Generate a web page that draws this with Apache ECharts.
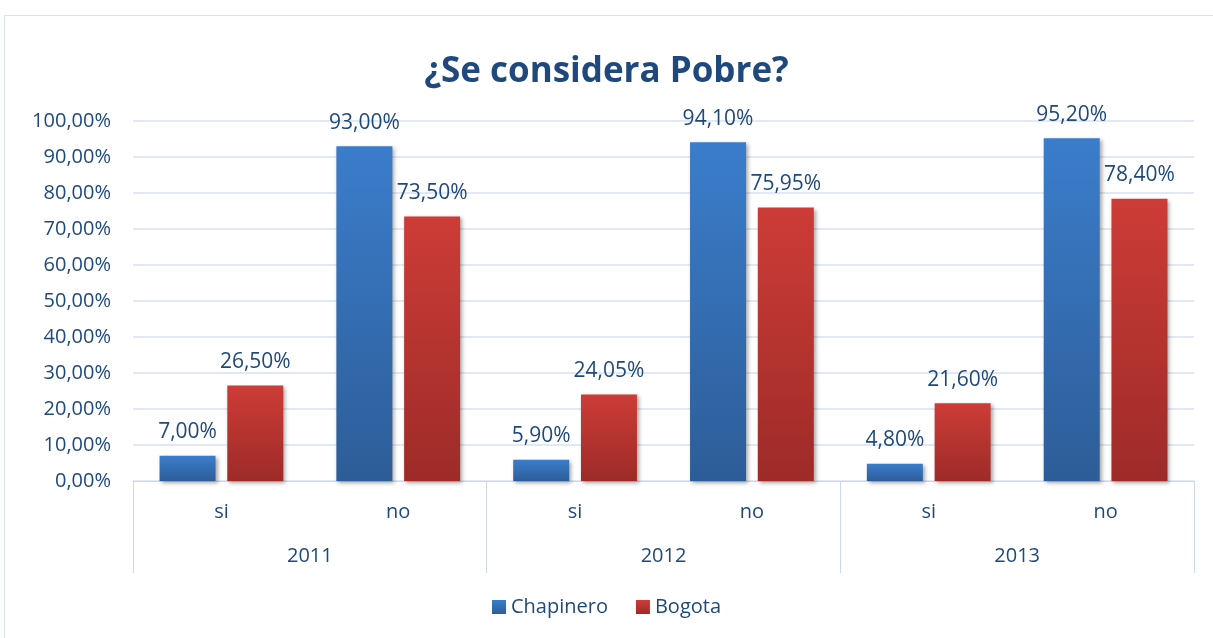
<!DOCTYPE html>
<html>
<head>
<meta charset="utf-8">
<script src="https://cdn.jsdelivr.net/npm/echarts@6/dist/echarts.min.js"></script>
<style>
  html, body { margin: 0; padding: 0; background: #fff; }
  #chart { width: 1213px; height: 638px; }
</style>
</head>
<body>
<div id="chart"></div>
<script>
var years = ['2011', '2012', '2013']
var answers = ['si', 'no', 'si', 'no', 'si', 'no']
var chapinero = [7.00, 93.00, 5.90, 94.10, 4.80, 95.20]
var bogota = [26.50, 73.50, 24.05, 75.95, 21.60, 78.40]

var textColor = '#1f497d'
var font = '"Open Sans", "Noto Sans", sans-serif'

function pct (v) {
  return v.toFixed(2).replace('.', ',') + '%'
}

function grad (top, bottom) {
  return new echarts.graphic.LinearGradient(0, 0, 0, 1, [
    { offset: 0, color: top },
    { offset: 1, color: bottom }
  ])
}

var myChart = echarts.init(document.getElementById('chart'))
var option = {
  animation: false,
  textStyle: { fontFamily: font },
  title: {
    text: '¿Se considera Pobre?',
    left: 'center',
    top: 50,
    textStyle: {
      color: textColor,
      fontSize: 35,
      fontWeight: 'bold',
      fontFamily: font
    }
  },
  graphic: [
    {
      type: 'rect',
      shape: { x: 4.5, y: 15.5, width: 1230, height: 650 },
      style: { fill: 'none', stroke: '#d6e2f2', lineWidth: 1 },
      silent: true
    }
  ],
  legend: {
    bottom: 16,
    left: 'center',
    icon: 'rect',
    itemWidth: 14,
    itemHeight: 14,
    itemGap: 28,
    textStyle: { color: textColor, fontSize: 20, fontFamily: font },
    data: ['Chapinero', 'Bogota']
  },
  grid: {
    left: 133,
    right: 19,
    top: 121,
    bottom: 157
  },
  xAxis: [
    {
      type: 'category',
      data: answers,
      axisLine: { show: true, lineStyle: { color: '#c9d9ee', width: 1 } },
      axisTick: { show: false },
      axisLabel: { color: textColor, fontSize: 20, margin: 21 }
    },
    {
      type: 'category',
      data: years,
      position: 'bottom',
      axisLine: { show: false },
      axisTick: { show: true, length: 92, alignWithLabel: false, lineStyle: { color: '#c9d9ee' } },
      axisLabel: { color: textColor, fontSize: 20, margin: 65 }
    }
  ],
  yAxis: {
    type: 'value',
    min: 0,
    max: 100,
    interval: 10,
    axisLine: { show: false },
    axisTick: { show: false },
    splitLine: { lineStyle: { color: '#d6e2f2', width: 1.5 } },
    axisLabel: {
      color: textColor,
      fontSize: 20,
      margin: 22,
      formatter: function (v) { return pct(v) }
    }
  },
  series: [
    {
      name: 'Chapinero',
      type: 'bar',
      xAxisIndex: 0,
      barWidth: 56,
      barGap: '21%',
      data: chapinero,
      itemStyle: {
        color: grad('#3b7dcb', '#2d5d98'),
        shadowColor: 'rgba(0,0,0,0.35)',
        shadowBlur: 4,
        shadowOffsetX: 2,
        shadowOffsetY: 2
      },
      label: {
        show: true,
        position: 'top',
        distance: 13,
        color: textColor,
        fontSize: 21,
        formatter: function (p) { return pct(p.value) }
      }
    },
    {
      name: 'Bogota',
      type: 'bar',
      xAxisIndex: 0,
      barWidth: 56,
      data: bogota,
      itemStyle: {
        color: grad('#cd3c37', '#9d2b28'),
        shadowColor: 'rgba(0,0,0,0.35)',
        shadowBlur: 4,
        shadowOffsetX: 2,
        shadowOffsetY: 2
      },
      label: {
        show: true,
        position: 'top',
        distance: 13,
        color: textColor,
        fontSize: 21,
        formatter: function (p) { return pct(p.value) }
      }
    }
  ]
}
myChart.setOption(option)
</script>
</body>
</html>
